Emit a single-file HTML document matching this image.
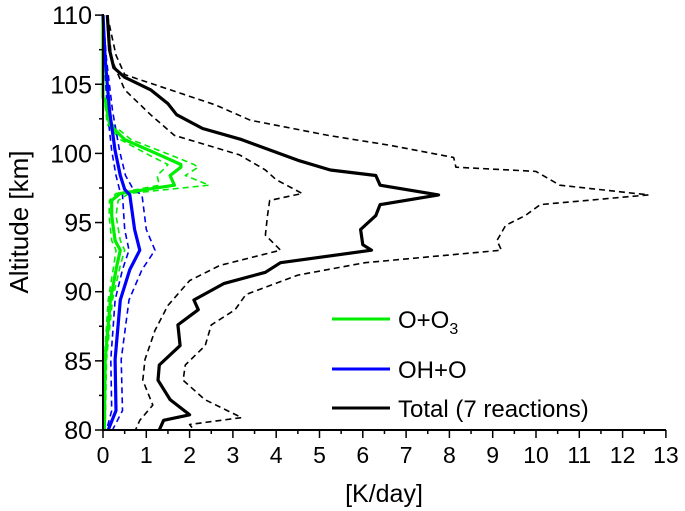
<!DOCTYPE html>
<html><head><meta charset="utf-8"><style>
body{margin:0;background:#fff}
svg{display:block;font-family:"Liberation Sans",sans-serif}
</style></head><body>
<svg id="chart" width="685" height="511" viewBox="0 0 685 511"></svg>
<script>
const xTicks=[0,1,2,3,4,5,6,7,8,9,10,11,12,13];
const yTicks=[80,85,90,95,100,105,110];
const totalAlt=[110,107.5,106.2,105.5,104.6,103.6,102.8,101.8,101,99.5,98.8,98.4,97.7,97.0,96.3,95.5,94.5,93.4,93.0,92.1,91.4,90.6,89.4,88.7,87.6,86.1,84.7,83.6,82.2,81.1,80.7,80];
const totalVal=[0.1,0.15,0.25,0.5,1.1,1.5,1.7,2.3,3.2,4.5,5.25,6.3,6.4,7.75,6.4,6.3,5.95,6.0,6.2,4.1,3.75,2.8,2.1,2.2,1.73,1.78,1.3,1.27,1.55,2.0,1.4,1.3];
const totHiAlt=[110,107.1,105.7,104.6,103.5,102.4,101.3,100.6,99.7,99.0,98.7,97.7,97.0,96.3,95.5,94.8,93.7,93.0,92.1,91.2,89.8,88.7,87.6,86.1,84.7,83.6,82.2,80.9,80.4,80];
const totHiVal=[0.1,0.3,0.5,1.55,2.6,3.4,5.2,6.6,8.1,8.15,10.0,10.55,12.6,10.1,9.75,9.3,9.1,9.2,6.05,4.5,3.3,3.05,2.5,2.36,1.9,1.85,2.35,3.2,2.0,2.1];
const totLoAlt=[110,106.8,104.6,102.8,101.3,99.9,98.8,98.1,97.1,96.6,95.5,94.1,93.0,91.9,90.8,89.0,87.2,85.1,83.6,81.8,80.7,80];
const totLoVal=[0.1,0.2,0.5,1.1,1.65,3.15,3.75,4.0,4.6,3.85,3.8,3.75,4.1,2.7,2.0,1.5,1.2,0.97,0.92,1.15,0.85,0.75];
const ooAlt=[110,104,103.9,102.1,101,99.9,99.2,99.0,98.4,97.7,97.4,97.1,96.6,95.5,93.7,93.0,91.9,89.4,85.1,80];
const ooVal=[0,0,0.05,0.15,0.5,1.3,1.8,1.8,1.55,1.65,1.0,0.4,0.2,0.2,0.28,0.4,0.32,0.17,0.05,0.03];
const ooHiVal=[0,0.02,0.08,0.22,0.65,1.55,2.1,2.2,1.9,2.45,1.5,0.6,0.35,0.3,0.4,0.5,0.4,0.22,0.08,0.05];
const ooLoVal=[0,0,0.03,0.1,0.4,1.05,1.5,1.45,1.25,1.3,0.8,0.3,0.15,0.14,0.2,0.3,0.25,0.12,0.03,0.02];
const ohAlt=[110,106.8,103.1,100.2,98.4,97.4,97.0,94.5,93.0,91.6,89.4,85.1,81.4,80];
const ohVal=[0,0.05,0.15,0.28,0.4,0.5,0.62,0.73,0.85,0.62,0.4,0.28,0.3,0.12];
const ohHiVal=[0,0.08,0.22,0.38,0.52,0.7,0.9,1.0,1.2,0.9,0.6,0.42,0.45,0.22];
const ohLoVal=[0,0.03,0.1,0.2,0.3,0.38,0.45,0.5,0.6,0.45,0.28,0.18,0.2,0.08];

const X=v=>103+v*43.3, Y=a=>430-(a-80)*13.83;
const svg=document.getElementById('chart');const NS='http://www.w3.org/2000/svg';
function add(tag,attrs,txt){const e=document.createElementNS(NS,tag);for(const k in attrs)e.setAttribute(k,attrs[k]);if(txt!==undefined)e.textContent=txt;svg.appendChild(e);return e;}
function line(alts,vals,color,w,dash,name){
  const d=alts.map((a,i)=>(i?'L':'M')+X(vals[i]).toFixed(1)+','+Y(a).toFixed(1)).join('');
  const p=add('path',{d:d,fill:'none',stroke:color,'stroke-width':w,'stroke-linejoin':'round'});
  if(dash)p.setAttribute('stroke-dasharray',dash);
  
  
}
line(totLoAlt,totLoVal,'#000',1.6,'6,4','total-lower-bound');
line(totHiAlt,totHiVal,'#000',1.6,'6,4','total-upper-bound');
line(ooAlt,ooHiVal,'#00ee00',1.6,'6,4','o-o3-upper-bound');
line(ooAlt,ooLoVal,'#00ee00',1.6,'6,4','o-o3-lower-bound');
line(ohAlt,ohHiVal,'#0000ee',1.6,'6,4','oh-o-upper-bound');
line(ohAlt,ohLoVal,'#0000ee',1.6,'6,4','oh-o-lower-bound');
line(ooAlt,ooVal,'#00ee00',3.2,null,'o-o3-line');
line(ohAlt,ohVal,'#0000ff',3.2,null,'oh-o-line');
line(totalAlt,totalVal,'#000',3.2,null,'total-line');
let a=add('line',{x1:103,y1:14,x2:103,y2:431,stroke:'#000','stroke-width':2});
a=add('line',{x1:102,y1:430,x2:666,y2:430,stroke:'#000','stroke-width':2});
xTicks.forEach(t=>{
  add('line',{x1:X(t),y1:430,x2:X(t),y2:438,stroke:'#000','stroke-width':1.5});
  if(t<13)add('line',{x1:X(t+0.5),y1:430,x2:X(t+0.5),y2:434,stroke:'#000','stroke-width':1.5});
  const e=add('text',{x:X(t),y:463,'font-size':23,'text-anchor':'middle'},String(t));
  
  
});
yTicks.forEach(t=>{
  add('line',{x1:95,y1:Y(t),x2:103,y2:Y(t),stroke:'#000','stroke-width':1.5});
  if(t<110)add('line',{x1:99,y1:Y(t+2.5),x2:103,y2:Y(t+2.5),stroke:'#000','stroke-width':1.5});
  const e=add('text',{x:92,y:Y(t)+9,'font-size':25,'text-anchor':'end'},String(t));
  
  
});
</script>
<svg style="position:absolute;left:0;top:0" width="685" height="511">
<text x="384" y="502" font-size="25" text-anchor="middle" font-family="Liberation Sans">[K/day]</text>
<text transform="translate(28,222) rotate(-90)" font-size="26" text-anchor="middle" font-family="Liberation Sans">Altitude [km]</text>
<g font-family="Liberation Sans" font-size="24">
<line x1="332" y1="319" x2="390" y2="319" stroke="#00ee00" stroke-width="3"/>
<text x="398" y="328">O+O<tspan font-size="16" dy="6">3</tspan></text>
<line x1="332" y1="369" x2="390" y2="369" stroke="#0000ff" stroke-width="3"/>
<text x="398" y="378">OH+O</text>
<line x1="332" y1="408" x2="390" y2="408" stroke="#000" stroke-width="3"/>
<text x="398" y="417">Total (7 reactions)</text>
</g>
</svg>
</body></html>
